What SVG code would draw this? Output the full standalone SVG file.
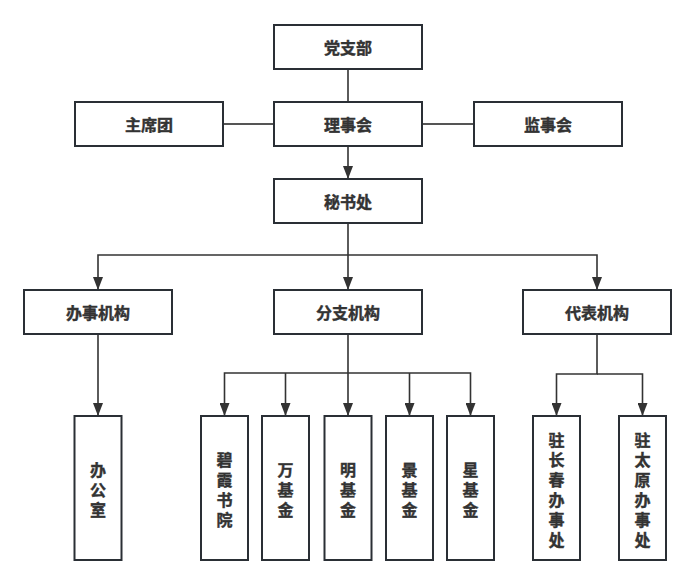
<svg xmlns="http://www.w3.org/2000/svg" width="695" height="584" viewBox="0 0 695 584">
<style>
.box{fill:#fff;stroke:#2a2f35;stroke-width:2}
.t{font-family:"Noto Sans CJK SC","Noto Sans",sans-serif;font-weight:bold;font-size:16px;fill:#333;stroke:#333;stroke-width:0.4;text-anchor:middle;dominant-baseline:central}
.v{writing-mode:vertical-rl;text-orientation:upright;letter-spacing:4px}
.c{fill:none;stroke:#333;stroke-width:1.6}
.g{fill:none;stroke:#555;stroke-width:2}
</style>
<defs>
<marker id="arr" markerUnits="userSpaceOnUse" viewBox="0 0 13 10" markerWidth="13" markerHeight="10" refX="13" refY="5" orient="auto">
<path d="M0,0 L13,5 L0,10 z" fill="#333"/>
</marker>
</defs>
<rect width="695" height="584" fill="#fff"/>
<g id="connectors">
<path class="c" d="M348,69 V102"/>
<path class="g" d="M223,124 H274"/>
<path class="g" d="M422,124 H474"/>
<path class="c" d="M348,146 V179" marker-end="url(#arr)"/>
<path class="c" d="M348,223 V290" marker-end="url(#arr)"/>
<path class="c" d="M348,255 H98 V290" marker-end="url(#arr)"/>
<path class="c" d="M348,255 H597 V290" marker-end="url(#arr)"/>
<path class="c" d="M98,334 V416" marker-end="url(#arr)"/>
<path class="c" d="M348,334 V416" marker-end="url(#arr)"/>
<path class="c" d="M348,373 H224.5 V416" marker-end="url(#arr)"/>
<path class="c" d="M285.5,373 V416" marker-end="url(#arr)"/>
<path class="c" d="M348,373 H470.5 V416" marker-end="url(#arr)"/>
<path class="c" d="M409.5,373 V416" marker-end="url(#arr)"/>
<path class="c" d="M597,334 V374 H556.5 V416" marker-end="url(#arr)"/>
<path class="c" d="M597,374 H642.5 V416" marker-end="url(#arr)"/>
</g>
<g id="n-dangzhibu"><rect class="box" x="274" y="25" width="148" height="44"/><text class="t" x="348" y="47">党支部</text></g>
<g id="n-zhuxituan"><rect class="box" x="75" y="102" width="148" height="44"/><text class="t" x="149" y="124">主席团</text></g>
<g id="n-lishihui"><rect class="box" x="274" y="102" width="148" height="44"/><text class="t" x="348" y="124">理事会</text></g>
<g id="n-jianshihui"><rect class="box" x="474" y="102" width="148" height="44"/><text class="t" x="548" y="124">监事会</text></g>
<g id="n-mishuchu"><rect class="box" x="274" y="179" width="148" height="44"/><text class="t" x="348" y="201">秘书处</text></g>
<g id="n-banshijigou"><rect class="box" x="24" y="290" width="148" height="44"/><text class="t" x="98" y="312">办事机构</text></g>
<g id="n-fenzhijigou"><rect class="box" x="274" y="290" width="148" height="44"/><text class="t" x="348" y="312">分支机构</text></g>
<g id="n-daibiaojigou"><rect class="box" x="523" y="290" width="148" height="44"/><text class="t" x="597" y="312">代表机构</text></g>
<g id="n-bangongshi"><rect class="box" x="74.5" y="416" width="47" height="144"/><text class="t v" x="98" y="492">办公室</text></g>
<g id="n-bixiashuyuan"><rect class="box" x="201" y="416" width="47" height="144"/><text class="t v" x="224.5" y="492">碧霞书院</text></g>
<g id="n-wanjijin"><rect class="box" x="262" y="416" width="47" height="144"/><text class="t v" x="285.5" y="492">万基金</text></g>
<g id="n-mingjijin"><rect class="box" x="324.5" y="416" width="47" height="144"/><text class="t v" x="348" y="492">明基金</text></g>
<g id="n-jingjijin"><rect class="box" x="386" y="416" width="47" height="144"/><text class="t v" x="409.5" y="492">景基金</text></g>
<g id="n-xingjijin"><rect class="box" x="447" y="416" width="47" height="144"/><text class="t v" x="470.5" y="492">星基金</text></g>
<g id="n-zhuchangchun"><rect class="box" x="533" y="416" width="47" height="144"/><text class="t v" x="556.5" y="492">驻长春办事处</text></g>
<g id="n-zhutaiyuan"><rect class="box" x="619" y="416" width="47" height="144"/><text class="t v" x="642.5" y="492">驻太原办事处</text></g>
</svg>
